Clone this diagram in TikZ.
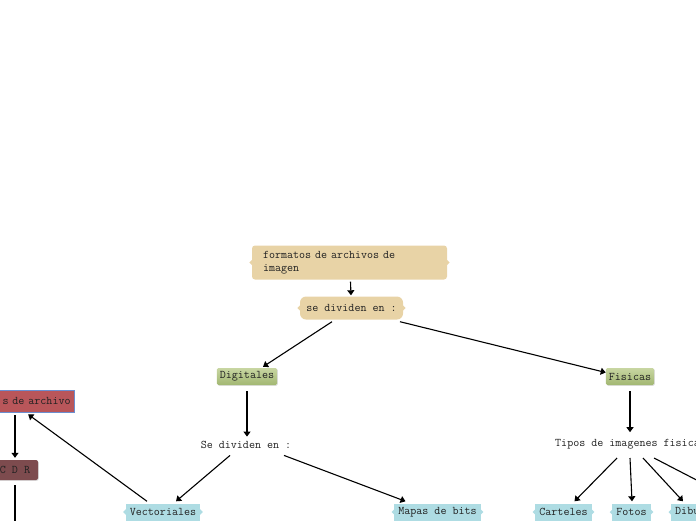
\documentclass[tikz,border=0pt]{standalone}
\usetikzlibrary{arrows.meta,calc,shadows}
\definecolor{tanfill}{HTML}{E8D3A6}
\definecolor{greentop}{HTML}{C8D6A2}
\definecolor{greenbot}{HTML}{A2B772}
\definecolor{bluefill}{HTML}{AEDCE3}
\definecolor{redfill}{HTML}{B9565A}
\definecolor{redline}{HTML}{6B8ED0}
\definecolor{brownfill}{HTML}{7D4B4E}
\definecolor{txt}{HTML}{222222}
\newcommand\sidebumps[2]{%
  \fill[#2] ($(#1.west)+(0.5,-3)$) -- ($(#1.west)+(-2.5,0)$) -- ($(#1.west)+(0.5,3)$) -- cycle;
  \fill[#2] ($(#1.east)+(-0.5,-3)$) -- ($(#1.east)+(2.5,0)$) -- ($(#1.east)+(-0.5,3)$) -- cycle;}
\tikzset{
  every node/.style={text=txt},
  tanbox/.style={fill=tanfill, rounded corners=3pt, inner sep=0pt},
  greenbox/.style={top color=greentop, bottom color=greenbot, rounded corners=1.5pt,
     minimum height=17pt, inner xsep=3pt, inner ysep=0pt,
     drop shadow={opacity=0.25, shadow xshift=0.8pt, shadow yshift=-0.8pt}},
  bluebox/.style={fill=bluefill, minimum height=17pt, inner xsep=4pt, inner ysep=0pt},
  conn/.style={draw=black, line width=1.1pt, -{Triangle[length=5pt,width=7pt]}},
  plainline/.style={draw=black, line width=1.1pt},
}
\begin{document}
\begin{tikzpicture}[x=1pt,y=-1pt, font=\fontsize{11.7}{12.5}\selectfont\ttfamily]
\useasboundingbox (0,0) rectangle (696,520);
\clip (0,0) rectangle (696,520);

% top node
\node[tanbox, minimum width=195pt, minimum height=34pt, text width=173pt, align=left] (top) at (349.5,262.5) {formatos de archivos de\\imagen};
\sidebumps{top}{tanfill}
\node[tanbox, rounded corners=6pt, minimum width=103pt, minimum height=23pt] (se) at (351.5,308) {se dividen en :};
\sidebumps{se}{tanfill}

% level 2
\node[greenbox] (dig) at (247,376.5) {Digitales};
\node[greenbox] (fis) at (630,376.5) {Fisicas};

% texts
\node[inner sep=1pt] (sdv) at (246,444.5) {Se dividen en :};
\node[inner sep=1pt, anchor=west] (tip) at (554,444.5) {Tipos de imagenes fisicas};

% blue leaves
\node[bluebox] (vec) at (163,512) {Vectoriales};
\sidebumps{vec}{bluefill}
\node[bluebox] (map) at (437.5,512) {Mapas de bits};
\sidebumps{map}{bluefill}
\node[bluebox] (car) at (563.5,512) {Carteles};
\sidebumps{car}{bluefill}
\node[bluebox] (fot) at (631.5,512) {Fotos};
\sidebumps{fot}{bluefill}
\node[bluebox, anchor=west] (dib) at (671,512) {Dibujos};
\sidebumps{dib}{bluefill}

% left side
\node[fill=redfill, draw=redline, line width=0.8pt, minimum height=22pt, minimum width=85pt,
      inner xsep=4pt, inner ysep=0pt, align=right, text width=78pt, anchor=east] (red) at (75,401) {s de archivo};
\node[fill=brownfill, rounded corners=2pt, minimum height=20pt, minimum width=46pt, inner sep=0pt,
      drop shadow={opacity=0.25, shadow xshift=0.8pt, shadow yshift=-0.8pt}] (cdr) at (15,470) {C D R};
\coordinate (cdrdown) at (15,525);
\coordinate (offright) at (710,487);

% connectors
\draw[conn] ($(top.south)+(1,2)$) -- ($(se.north)+(-0.5,-1)$);
\draw[conn] ($(se.south)+(-19.5,2)$) -- ($(dig.north)+(16,-1)$);
\draw[conn] ($(se.south)+(48.5,2)$) -- ($(fis.west)+(0,-4)$);
\draw[conn] ($(dig.south)+(0,6)$) -- ($(sdv.north)+(1,-3)$);
\draw[conn] ($(fis.south)+(0,6)$) -- ($(fis.south)+(0,47)$);
\draw[conn] ($(sdv.south)+(-16,6)$) -- ($(vec.north)+(13,-2)$);
\draw[conn] ($(sdv.south)+(38,6)$) -- ($(map.north)+(-32,-2)$);
\draw[conn] (617,458) -- ($(car.north)+(11,-2)$);
\draw[conn] (630,458) -- ($(fot.north)+(0.5,-2)$);
\draw[conn] (643,458) -- ($(dib.north west)+(12,-2)$);
\draw[plainline] (654,458) -- (offright);
\draw[conn] ($(vec.north)+(-16,-2)$) -- ($(red.south west)+(40,2)$);
\draw[conn] ($(red.south -| cdr.north)+(0,3)$) -- ($(cdr.north)+(0,-2)$);
\draw[plainline] ($(cdr.south)+(0,5)$) -- (cdrdown);
\end{tikzpicture}
\end{document}
